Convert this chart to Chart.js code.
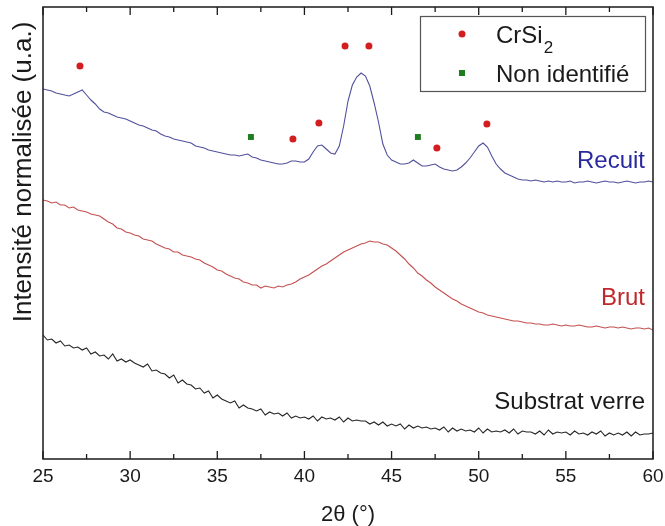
<!DOCTYPE html>
<html><head><meta charset="utf-8">
<script src="https://cdn.jsdelivr.net/npm/chart.js@4.4.0/dist/chart.umd.min.js"></script>
<style>html,body{margin:0;padding:0;background:#fff;}#wrap{width:665px;height:526px;}</style>
</head><body><div id="wrap"><canvas id="c" width="665" height="526"></canvas></div>
<script>
// Scan: 2θ from 25° to 60°, step 0.25°
const angleStart = 25, angleStep = 0.25, angleCount = 141;
const twoTheta = Array.from({length: angleCount}, (_, i) => angleStart + i * angleStep);

const recuit = [
370,369,368,366, 365,364,363,365, 367,369,364,359, 355,350,347,346,
344,342,341,340, 338,336,334,333, 331,329,328,325, 323,322,320,319,
318,317,316,313, 312,311,309,308, 307,306,305,304, 304,303,304,305,
302,301,299,298, 297,296,295,295, 296,298,298,297, 297,300,307,313,
314,310,306,305, 313,333,358,374, 382,386,383,373, 356,337,315,304,
299,297,295,295, 296,299,296,293, 293,294,295,292, 290,289,288,289,
292,296,301,307, 313,316,312,303, 295,290,286,284, 282,280,279,279,
278,279,278,277, 278,277,278,277, 277,278,276,277, 277,278,277,276,
277,278,277,277, 276,277,278,277, 276,277,277,278, 277];

const brut = [
259,258,256,257, 254,254,251,252, 249,248,247,245, 244,243,240,237,
235,231,230,227, 226,224,223,220, 219,218,215,213, 211,210,207,207,
204,203,202,200, 199,196,194,192, 189,188,185,183, 181,180,177,176,
174,174,171,173, 172,171,173,172, 174,175,177,180, 182,184,187,190,
193,195,198,201, 204,207,209,211, 213,215,216,218, 217,217,215,214,
211,208,204,200, 195,191,186,183, 179,176,172,169, 166,163,160,158,
155,153,151,149, 147,146,144,143, 142,141,140,139, 138,138,137,136,
136,135,135,134, 134,135,134,133, 134,133,133,134, 133,132,132,133,
132,131,132,132, 131,132,131,130, 131,131,130,131, 129];

const substrat = [
124,119,120,116, 118,113,114,111, 112,109,111,105, 107,103,104,100,
105,98,100,97, 99,96,94,92, 95,88,89,86, 85,81,84,76,
79,75,74,70, 71,66,68,61, 64,60,58,56, 58,51,54,51,
50,48,50,44, 47,45,46,43, 46,41,43,41, 42,40,43,38,
42,40,41,39, 42,37,41,38, 39,38,38,35, 37,34,37,33,
35,33,35,30, 34,31,33,31, 32,30,31,29, 32,27,31,28,
30,28,29,27, 31,26,30,27, 28,27,29,26, 30,25,28,27,
27,25,28,24, 29,25,27,26, 27,24,28,25, 26,24,27,25,
28,23,26,24, 26,24,27,23, 27,24,25,25, 26];

// Peak markers
const crsi2Angles  = [27.12, 39.34, 40.83, 42.33, 43.70, 47.60, 50.47];
const crsi2Heights = [393, 320, 336, 413, 413, 311, 335];
const nonIdAngles  = [36.93, 46.51];
const nonIdHeights = [322, 322];

const seriesNames = ['Recuit', 'Brut', 'Substrat verre'];
const markerNames = ['CrSi₂', 'Non identifié'];

const F = '"Liberation Sans", Arial, sans-serif';
const C = {recuit:'#50509e', brut:'#c45050', substrat:'#262626', red:'#d21e1e', green:'#1e7d1e',
           recuitText:'#2a2aa0', brutText:'#c0282d', text:'#1a1a1a'};

const pts = (xs, ys) => xs.map((x, i) => ({x, y: ys[i]}));
const lineDs = (label, ys, color, w) => ({type:'line', label, data: pts(twoTheta, ys),
  borderColor: color, borderWidth: w, pointRadius: 0, tension: 0, fill: false});

const decor = {
  id: 'decor',
  afterDraw(chart) {
    const {ctx, chartArea: a, scales: {x}} = chart;
    ctx.save();
    ctx.strokeStyle = C.text; ctx.lineWidth = 1.5;
    ctx.strokeRect(a.left, a.top, a.right - a.left, a.bottom - a.top);
    ctx.lineWidth = 1.3;
    x.ticks.forEach(t => {
      const px = x.getPixelForValue(t.value);
      const len = (t.value % 5 === 0) ? 8 : 5;
      ctx.beginPath();
      ctx.moveTo(px, a.bottom); ctx.lineTo(px, a.bottom - len);
      ctx.moveTo(px, a.top); ctx.lineTo(px, a.top + len);
      ctx.stroke();
    });
    // series labels
    ctx.font = '24px ' + F; ctx.textAlign = 'right'; ctx.textBaseline = 'alphabetic';
    ctx.fillStyle = C.recuitText; ctx.fillText(seriesNames[0], 645, 168);
    ctx.fillStyle = C.brutText; ctx.fillText(seriesNames[1], 645, 305);
    ctx.fillStyle = C.text; ctx.fillText(seriesNames[2], 645, 409);
    // legend box
    ctx.strokeStyle = '#555'; ctx.lineWidth = 1.2;
    ctx.strokeRect(420.5, 16.5, 225, 75);
    ctx.fillStyle = C.red; ctx.beginPath(); ctx.arc(462, 34, 3.5, 0, Math.PI * 2); ctx.fill();
    ctx.fillStyle = C.green; ctx.fillRect(459, 70, 6, 6);
    ctx.fillStyle = C.text; ctx.textAlign = 'left';
    ctx.font = '24px ' + F;
    ctx.fillText('CrSi', 496, 43);
    const w = ctx.measureText('CrSi').width;
    ctx.font = '17px ' + F; ctx.fillText('2', 496 + w + 1, 53);
    ctx.font = '24px ' + F; ctx.fillText(markerNames[1], 496, 82);
    // y title
    ctx.translate(24, 172); ctx.rotate(-Math.PI / 2);
    ctx.textAlign = 'center'; ctx.textBaseline = 'middle';
    ctx.font = '26px ' + F; ctx.fillStyle = C.text;
    ctx.fillText('Intensité normalisée (u.a.)', 0, 0);
    ctx.restore();
  }
};

new Chart(document.getElementById('c'), {
  type: 'scatter',
  data: {datasets: [
    lineDs(seriesNames[0], recuit, C.recuit, 1.1),
    lineDs(seriesNames[1], brut, C.brut, 1.1),
    lineDs(seriesNames[2], substrat, C.substrat, 1.1),
    {type:'scatter', label: markerNames[0], data: pts(crsi2Angles, crsi2Heights),
     pointStyle:'circle', pointRadius:3.5, backgroundColor:C.red, borderWidth:0},
    {type:'scatter', label: markerNames[1], data: pts(nonIdAngles, nonIdHeights),
     pointStyle:'rect', pointRadius:4.2, backgroundColor:C.green, borderWidth:0}
  ]},
  options: {
    responsive: false, animation: false, devicePixelRatio: 1,
    layout: {padding: {top: 7, right: 12, left: 0, bottom: 0}},
    plugins: {legend: {display: false}, tooltip: {enabled: false}},
    scales: {
      x: {type:'linear', min:25, max:60,
          ticks:{stepSize:2.5, autoSkip:false, maxRotation:0, padding:6, color:C.text,
                 font:{family:F, size:19}, callback: v => (v % 5 === 0 ? String(v) : '')},
          grid:{display:false, drawTicks:false}, border:{display:false},
          title:{display:true, text:'2θ (°)', color:C.text, padding:0,
                 font:{family:F, size:22, lineHeight:1}},
          afterFit: s => { s.height = 67; s.paddingLeft = 0; s.paddingRight = 0; }},
      y: {min:0, max:452, ticks:{display:false}, grid:{display:false, drawTicks:false},
          border:{display:false}, afterFit: s => { s.width = 43; }}
    }
  },
  plugins: [decor]
});
</script>
</body></html>
